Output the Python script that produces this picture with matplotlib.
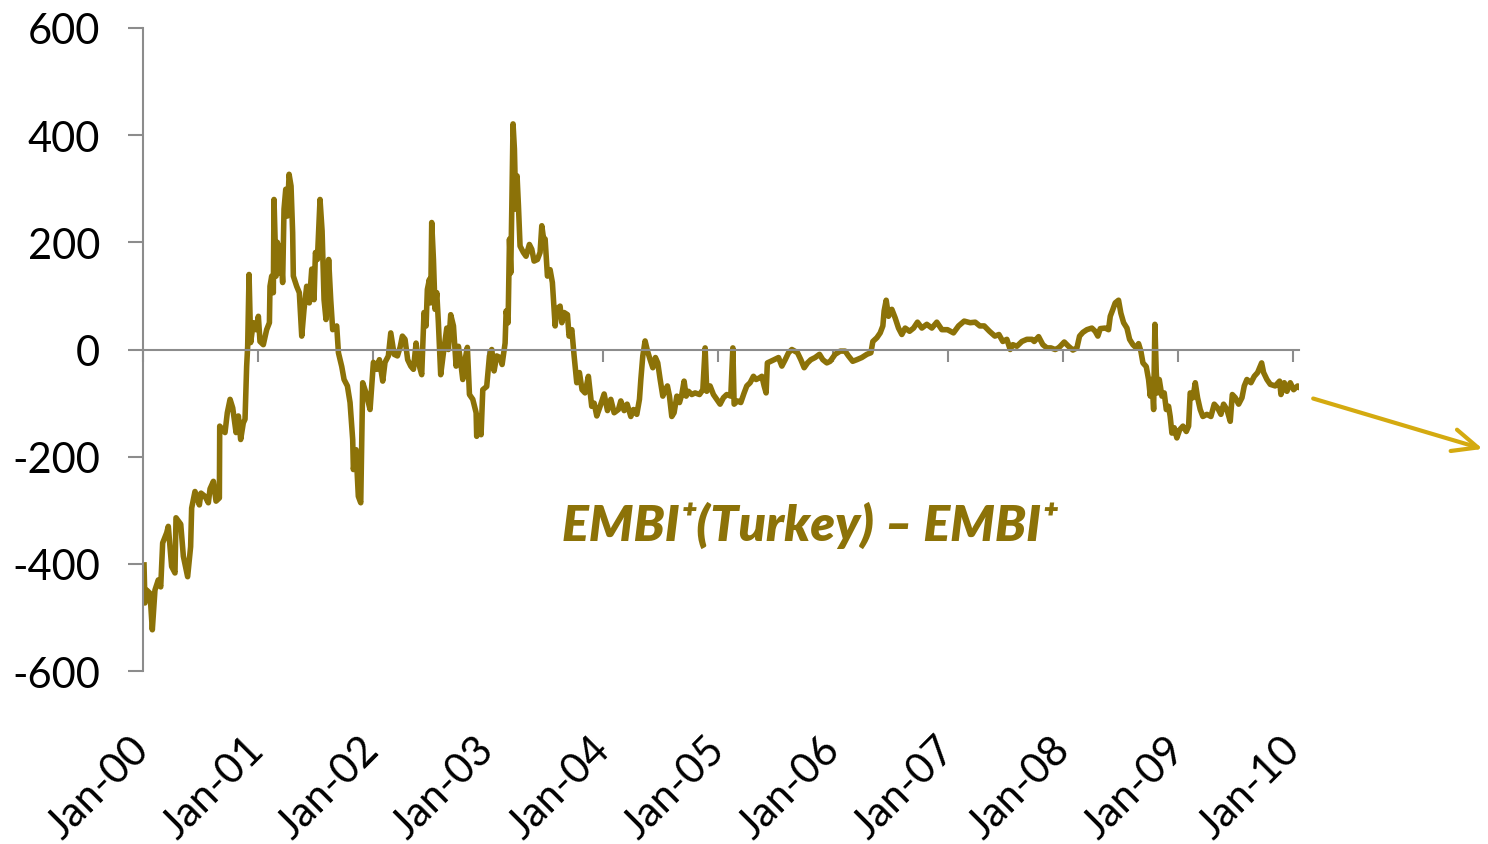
import matplotlib
matplotlib.use("Agg")
import matplotlib.pyplot as plt

# years since Jan-2000 and spread (bp)
t_00_01 = [0.009, 0.017, 0.032, 0.061, 0.081, 0.104, 0.133, 0.154, 0.171, 0.206, 0.220, 0.249,
           0.278, 0.287, 0.328, 0.351, 0.388, 0.414, 0.423, 0.452, 0.490, 0.504, 0.539, 0.568,
           0.583, 0.612, 0.635, 0.664, 0.667, 0.713, 0.733, 0.757, 0.780, 0.809, 0.829, 0.849,
           0.872, 0.887, 0.901, 0.910, 0.922, 0.936, 0.959, 0.983, 1.003, 1.017, 1.046, 1.075,
           1.099, 1.104, 1.119, 1.133, 1.139, 1.157, 1.168, 1.186, 1.197, 1.214, 1.226, 1.241,
           1.255, 1.270, 1.287, 1.301, 1.307, 1.336, 1.359, 1.380, 1.400, 1.423, 1.446, 1.467,
           1.487, 1.499, 1.516, 1.539, 1.557, 1.574, 1.591, 1.614, 1.632, 1.649, 1.684, 1.699,
           1.728, 1.748, 1.777, 1.800, 1.823, 1.829, 1.852, 1.872, 1.893, 1.910, 1.939, 1.974]
v_00_01 = [-402, -473, -449, -455, -523, -449, -430, -443, -361, -342, -330, -405,
           -417, -314, -326, -386, -424, -368, -296, -265, -290, -268, -274, -286,
           -260, -246, -283, -277, -143, -155, -118, -93, -109, -155, -124, -168,
           -137, -130, -32, 6, 140, 13, 50, 37, 62, 15, 9, 37,
           50, 118, 137, 106, 280, 137, 200, 143, 193, 125, 262, 299,
           249, 327, 305, 218, 137, 118, 106, 25, 75, 118, 87, 150,
           93, 181, 168, 280, 221, 93, 56, 168, 93, 37, 44, -6,
           -32, -56, -68, -99, -168, -224, -187, -274, -286, -62, -81, -112]

t_02_03 = [2.003, 2.032, 2.055, 2.084, 2.104, 2.133, 2.154, 2.183, 2.212, 2.235, 2.255, 2.278,
           2.301, 2.328, 2.351, 2.374, 2.394, 2.423, 2.443, 2.461, 2.472, 2.490, 2.501, 2.510,
           2.525, 2.539, 2.554, 2.568, 2.588, 2.612, 2.641, 2.655, 2.675, 2.699, 2.722, 2.742,
           2.762, 2.780, 2.800, 2.820, 2.838, 2.867, 2.896, 2.901, 2.925, 2.939, 2.954, 2.988,
           3.012, 3.032, 3.052, 3.075, 3.104, 3.122, 3.148, 3.157, 3.174, 3.186, 3.197, 3.206,
           3.217, 3.229, 3.241, 3.252, 3.264, 3.278, 3.307, 3.330, 3.359, 3.380, 3.400, 3.429,
           3.452, 3.467, 3.481, 3.496, 3.516, 3.539, 3.559, 3.583, 3.597, 3.626, 3.641, 3.661,
           3.690, 3.704, 3.728, 3.748, 3.771, 3.794, 3.817, 3.843, 3.872, 3.901, 3.922, 3.945]
v_02_03 = [-24, -37, -19, -59, -24, -12, 31, -9, -12, 4, 25, 19,
           -19, -31, -37, 12, -24, -47, 69, 44, 112, 131, 87, 237,
           168, 75, 106, 50, -47, -6, 40, 0, 65, 44, -31, 6,
           -24, -56, -19, 4, -84, -93, -118, -162, -124, -159, -75, -69,
           -12, 0, -40, -12, -15, -28, 12, 72, 50, 206, 143, 262,
           421, 374, 262, 324, 268, 193, 181, 174, 196, 187, 165, 168,
           181, 231, 209, 206, 137, 149, 125, 44, 75, 81, 50, 69,
           65, 25, 37, -12, -62, -43, -75, -81, -50, -106, -100, -124]

t_04_05 = [3.974, 4.009, 4.038, 4.067, 4.096, 4.133, 4.154, 4.183, 4.209, 4.241, 4.264, 4.293,
           4.316, 4.328, 4.345, 4.365, 4.386, 4.409, 4.432, 4.455, 4.475, 4.496, 4.519, 4.541,
           4.559, 4.577, 4.597, 4.617, 4.641, 4.664, 4.684, 4.704, 4.722, 4.742, 4.771, 4.800,
           4.838, 4.867, 4.887, 4.901, 4.930, 4.959, 4.988, 5.017, 5.046, 5.075, 5.110, 5.128,
           5.139, 5.168, 5.197, 5.226, 5.249, 5.278, 5.307, 5.330, 5.359, 5.380, 5.400, 5.417,
           5.428, 5.458, 5.487, 5.525, 5.554, 5.583, 5.612, 5.641, 5.690, 5.719, 5.748, 5.777,
           5.806, 5.843, 5.881, 5.910, 5.945]
v_04_05 = [-106, -83, -114, -93, -118, -112, -96, -114, -102, -125, -112, -121,
           -93, -56, -12, 16, -3, -19, -34, -15, -25, -56, -87, -75,
           -68, -87, -125, -118, -87, -99, -84, -59, -87, -78, -84, -81,
           -84, -75, 3, -78, -68, -84, -93, -102, -90, -84, -87, 3,
           -102, -96, -99, -81, -68, -62, -50, -56, -53, -50, -68, -81,
           -25, -22, -19, -15, -31, -19, -6, 0, -6, -19, -34, -25,
           -19, -15, -9, -19, -25]

t_06_07 = [5.974, 6.017, 6.061, 6.104, 6.133, 6.170, 6.206, 6.249, 6.293, 6.328, 6.345, 6.380,
           6.409, 6.432, 6.443, 6.461, 6.481, 6.510, 6.539, 6.568, 6.597, 6.626, 6.664, 6.699,
           6.733, 6.771, 6.814, 6.858, 6.901, 6.945, 6.994, 7.046, 7.090, 7.139, 7.191, 7.235,
           7.275, 7.313, 7.359, 7.406, 7.441, 7.475, 7.510, 7.539, 7.562, 7.597, 7.641, 7.684,
           7.728, 7.748, 7.786, 7.823, 7.858, 7.893, 7.930, 7.959]
v_06_07 = [-22, -9, -3, -3, -12, -22, -19, -15, -9, -6, 15, 22,
           31, 44, 72, 92, 62, 75, 59, 40, 28, 40, 34, 40,
           51, 40, 47, 40, 51, 37, 37, 31, 44, 53, 50, 51,
           44, 44, 34, 25, 28, 15, 19, 0, 9, 6, 15, 19,
           19, 15, 24, 9, 3, 3, 0, 3]

t_08_09 = [7.974, 8.009, 8.046, 8.084, 8.119, 8.142, 8.171, 8.206, 8.249, 8.278, 8.301, 8.322,
           8.365, 8.394, 8.409, 8.432, 8.452, 8.481, 8.501, 8.525, 8.554, 8.577, 8.606, 8.635,
           8.655, 8.675, 8.693, 8.722, 8.742, 8.757, 8.771, 8.786, 8.797, 8.809, 8.820, 8.835,
           8.858, 8.878, 8.896, 8.916, 8.930, 8.945, 8.965, 8.988, 9.012, 9.041, 9.070, 9.090,
           9.104, 9.128, 9.148, 9.168, 9.191, 9.214, 9.249, 9.284, 9.313, 9.342, 9.371, 9.394,
           9.423, 9.452, 9.470, 9.496, 9.525, 9.554, 9.574, 9.597, 9.632, 9.661, 9.690, 9.707,
           9.725, 9.742, 9.771, 9.800, 9.843, 9.881, 9.893, 9.922, 9.945, 9.974, 10.003, 10.038,
           10.055]
v_08_09 = [6, 14, 6, -1, 3, 25, 32, 37, 40, 34, 25, 39,
           40, 37, 62, 75, 87, 92, 68, 50, 40, 19, 9, 3,
           11, -3, -25, -32, -56, -87, -56, -112, 47, -43, -81, -56,
           -87, -81, -112, -106, -125, -156, -146, -165, -150, -143, -153, -143,
           -81, -90, -62, -90, -112, -125, -121, -125, -102, -109, -121, -102,
           -112, -134, -84, -90, -102, -90, -68, -56, -62, -50, -43, -34,
           -25, -43, -56, -65, -68, -59, -84, -62, -78, -62, -75, -68,
           -71]

tick_labels = ["Jan-00", "Jan-01", "Jan-02", "Jan-03", "Jan-04", "Jan-05",
               "Jan-06", "Jan-07", "Jan-08", "Jan-09", "Jan-10"]

t = t_00_01 + t_02_03 + t_04_05 + t_06_07 + t_08_09
spread = v_00_01 + v_02_03 + v_04_05 + v_06_07 + v_08_09

line_col = "#8C7208"
arrow_col = "#D4AA10"
axis_col = "#8C8C8C"
plt.rcParams['font.family'] = ['Lato', 'DejaVu Sans']
plt.rcParams['axes.unicode_minus'] = False

fig = plt.figure(figsize=(14.88, 8.45), dpi=100)
ax = fig.add_axes([0.0961, 0.2047, 0.7769, 0.761])

ax.plot(t, spread, color=line_col, lw=4, solid_joinstyle='round')

ax.set_xlim(0, 10.05)
ax.set_ylim(-600, 600)

for s in ['top', 'right']:
    ax.spines[s].set_visible(False)
ax.spines['bottom'].set_position(('data', 0))
ax.spines['bottom'].set_color(axis_col)
ax.spines['left'].set_color(axis_col)
ax.spines['bottom'].set_linewidth(1.5)
ax.spines['left'].set_linewidth(1.5)

ax.set_yticks([-600, -400, -200, 0, 200, 400, 600])
ax.tick_params(axis='y', direction='out', length=11, width=1.5, color=axis_col,
               labelsize=30, pad=20)

ax.set_xticks(range(11))
ax.tick_params(axis='x', direction='out', length=8.5, width=1.5, color=axis_col,
               labelbottom=False)

# tick labels sit below the plot area
sec = ax.secondary_xaxis('bottom')
sec.set_xticks(range(11))
sec.set_xticklabels(tick_labels, rotation=45, ha='right', va='center',
                    rotation_mode='anchor', fontsize=30)
sec.tick_params(length=0, pad=52)
sec.spines['bottom'].set_visible(False)

ax.text(5.8, -327, "EMBI\u207a(Turkey) \u2013 EMBI\u207a", color=line_col,
        fontsize=36, fontweight='heavy', fontstyle='italic', ha='center', va='center')

ax.annotate("", xy=(11.67, -187), xytext=(10.15, -90), xycoords='data',
            annotation_clip=False,
            arrowprops=dict(arrowstyle='->,head_length=0.9,head_width=0.4',
                            color=arrow_col, lw=3, mutation_scale=20))

fig.savefig("out.png", dpi=100)
